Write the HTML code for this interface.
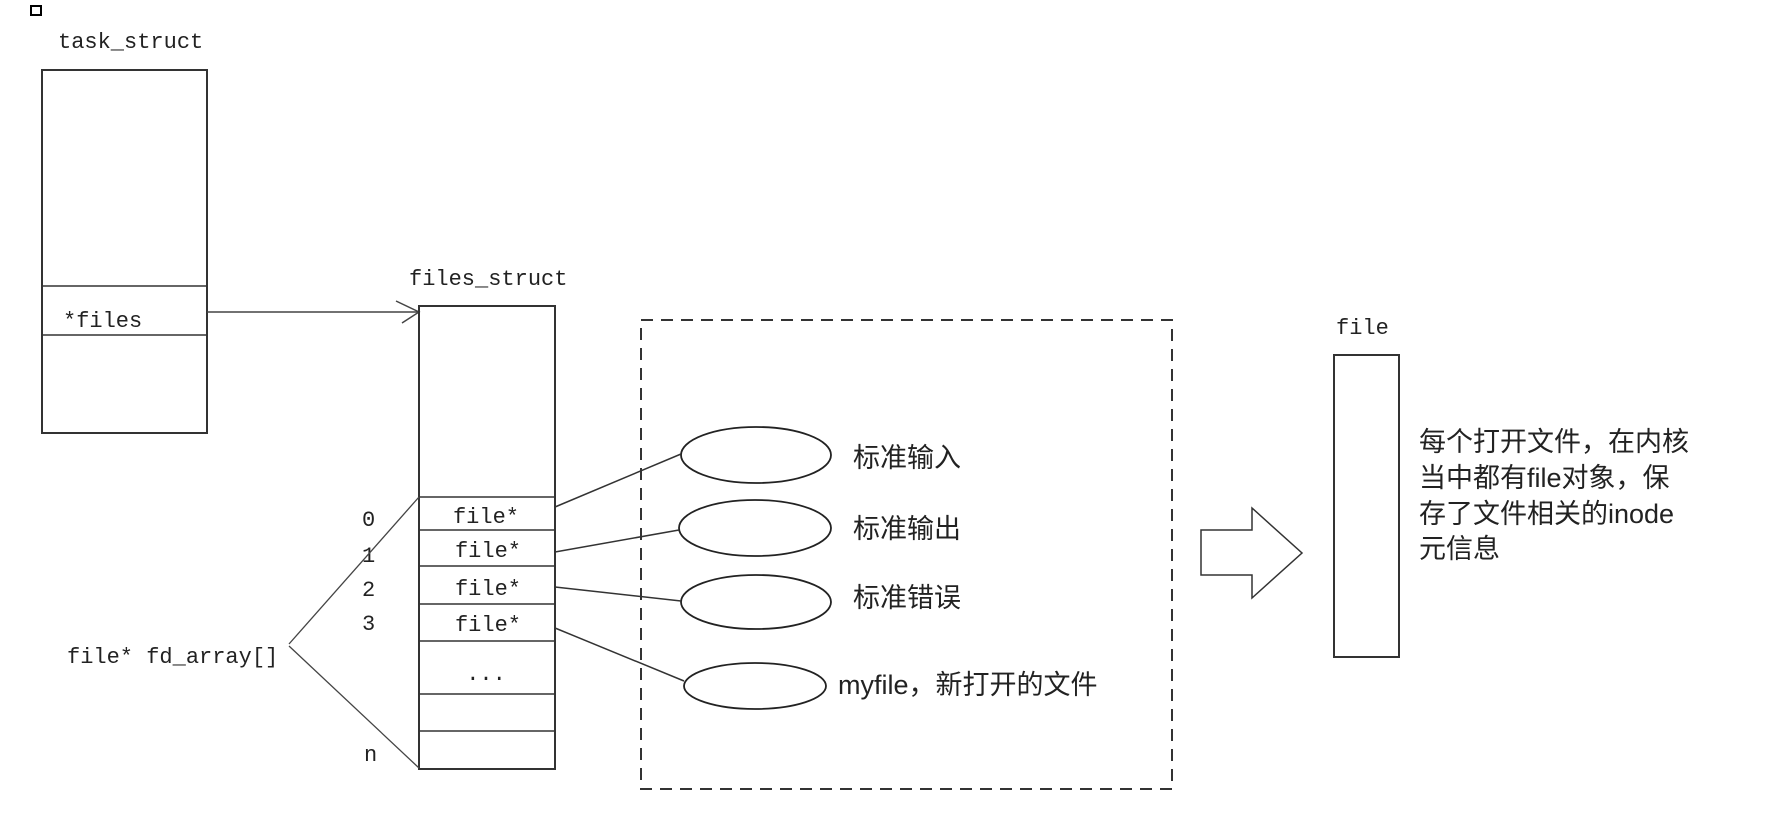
<!DOCTYPE html>
<html><head><meta charset="utf-8"><style>
html,body{margin:0;padding:0;background:#fff;}
svg{display:block;}
.m{font-family:"Liberation Mono",monospace;font-size:22px;fill:#222;}
.c{font-family:"Liberation Sans","Noto Sans CJK SC",sans-serif;font-size:27px;fill:#222;}
</style></head><body>
<svg width="1769" height="820" viewBox="0 0 1769 820" xmlns="http://www.w3.org/2000/svg">
<rect x="31" y="6" width="10" height="9" fill="none" stroke="#000" stroke-width="2"/>
<text class="m" x="58" y="48">task_struct</text>
<rect x="42" y="70" width="165" height="363" fill="none" stroke="#333" stroke-width="2"/>
<line x1="42" y1="286" x2="207" y2="286" stroke="#333" stroke-width="1.5"/>
<line x1="42" y1="335" x2="207" y2="335" stroke="#333" stroke-width="1.5"/>
<text class="m" x="63" y="327">*files</text>
<line x1="207" y1="312" x2="419" y2="312" stroke="#444" stroke-width="1.5"/>
<polyline points="396,301 419,312 402,323" fill="none" stroke="#444" stroke-width="1.5"/>
<text class="m" x="409" y="285">files_struct</text>
<rect x="419" y="306" width="136" height="463" fill="none" stroke="#333" stroke-width="2"/>
<g stroke="#333" stroke-width="1.5">
<line x1="419" y1="497" x2="555" y2="497"/><line x1="419" y1="530" x2="555" y2="530"/>
<line x1="419" y1="566" x2="555" y2="566"/><line x1="419" y1="604" x2="555" y2="604"/>
<line x1="419" y1="641" x2="555" y2="641"/><line x1="419" y1="694" x2="555" y2="694"/>
<line x1="419" y1="731" x2="555" y2="731"/>
</g>
<g class="m" text-anchor="middle">
<text x="486" y="523">file*</text><text x="488" y="557">file*</text>
<text x="488" y="595">file*</text><text x="488" y="631">file*</text>
<text x="486" y="680">...</text>
</g>
<g class="m">
<text x="362" y="526">0</text><text x="362" y="562">1</text>
<text x="362" y="596">2</text><text x="362" y="630">3</text>
<text x="364" y="761">n</text>
<text x="67" y="663">file* fd_array[]</text>
</g>
<line x1="289" y1="644" x2="419" y2="497" stroke="#444" stroke-width="1.3"/>
<line x1="289" y1="646" x2="419" y2="768" stroke="#444" stroke-width="1.3"/>
<rect x="641" y="320" width="531" height="469" fill="none" stroke="#333" stroke-width="2" stroke-dasharray="12,8"/>
<g fill="none" stroke="#222" stroke-width="1.8">
<ellipse cx="756" cy="455" rx="75" ry="28"/>
<ellipse cx="755" cy="528" rx="76" ry="28"/>
<ellipse cx="756" cy="602" rx="75" ry="27"/>
<ellipse cx="755" cy="686" rx="71" ry="23"/>
</g>
<g stroke="#333" stroke-width="1.5">
<line x1="555" y1="507" x2="681" y2="454"/>
<line x1="555" y1="552" x2="679" y2="530"/>
<line x1="555" y1="587" x2="681" y2="601"/>
<line x1="555" y1="628" x2="684" y2="681"/>
</g>
<g class="c">
<text x="853" y="467">标准输入</text>
<text x="853" y="538">标准输出</text>
<text x="853" y="607">标准错误</text>
<text x="838" y="694">myfile，新打开的文件</text>
</g>
<polygon points="1201,530 1252,530 1252,508 1302,553 1252,598 1252,575 1201,575" fill="#fff" stroke="#333" stroke-width="1.5"/>
<text class="m" x="1336" y="334">file</text>
<rect x="1334" y="355" width="65" height="302" fill="none" stroke="#333" stroke-width="2"/>
<g class="c">
<text x="1419" y="451">每个打开文件，在内核</text>
<text x="1419" y="487">当中都有file对象，保</text>
<text x="1419" y="523">存了文件相关的inode</text>
<text x="1419" y="558">元信息</text>
</g>
</svg>
</body></html>
